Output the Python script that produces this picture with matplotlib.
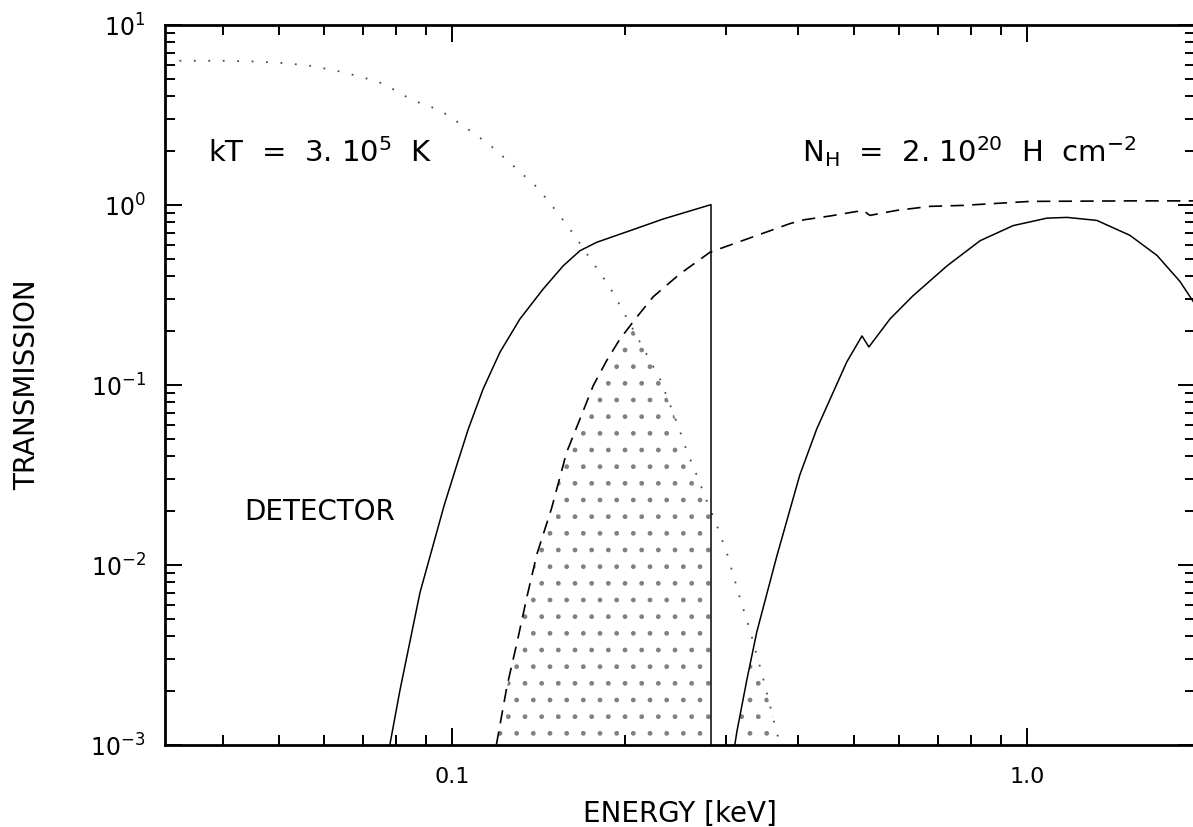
import numpy as np
import matplotlib.pyplot as plt
from matplotlib.ticker import NullFormatter

# energies in keV, transmissions
# dotted curve: blackbody spectrum kT = 3.10^5 K
bb_E = [0.0317, 0.040, 0.045, 0.050, 0.056, 0.063, 0.070, 0.076, 0.0855, 0.0953,
        0.1045, 0.1164, 0.1277, 0.1406, 0.1524, 0.1637, 0.174, 0.188, 0.198, 0.230,
        0.246, 0.256, 0.267, 0.280, 0.289, 0.301, 0.317, 0.330, 0.347, 0.362, 0.372]
bb_T = [6.3, 6.3, 6.25, 6.15, 5.95, 5.55, 5.1, 4.7, 3.8, 3.35,
        2.75, 2.15, 1.65, 1.25, 0.91, 0.67, 0.50, 0.35, 0.26, 0.108,
        0.062, 0.043, 0.031, 0.021, 0.0165, 0.0115, 0.0065, 0.0043, 0.0024, 0.0014, 0.001]

# solid curve, detector below the carbon edge
det1_E = [0.078, 0.0812, 0.088, 0.0970, 0.1019, 0.1068, 0.1133, 0.1212, 0.1313,
          0.1441, 0.1562, 0.167, 0.1785, 0.204, 0.2331, 0.282]
det1_T = [0.001, 0.0020, 0.0070, 0.0215, 0.0355, 0.0568, 0.0946, 0.1514, 0.2317,
          0.34, 0.458, 0.555, 0.618, 0.717, 0.833, 1.0]

# solid curve above the edge
det2_E = [0.3105, 0.313, 0.326, 0.339, 0.3674, 0.4027, 0.431, 0.486, 0.5166,
          0.531, 0.578, 0.633, 0.726, 0.829, 0.946, 1.083, 1.174, 1.323, 1.51,
          1.683, 1.845, 1.96]
det2_T = [0.001, 0.00118, 0.00232, 0.00423, 0.0112, 0.0315, 0.0568, 0.1337, 0.1866,
          0.162, 0.232, 0.311, 0.457, 0.631, 0.765, 0.842, 0.85, 0.818, 0.676,
          0.523, 0.375, 0.28]

# dashed curve: interstellar transmission, N_H = 2.10^20
ism_E = [0.1195, 0.1247, 0.1298, 0.135, 0.1406, 0.149, 0.1583, 0.167, 0.1761, 0.1858,
         0.196, 0.2095, 0.2239, 0.249, 0.281, 0.326, 0.372, 0.387, 0.41, 0.454,
         0.519, 0.533, 0.594, 0.678, 0.774, 1.012, 1.51, 1.96]
ism_T = [0.001, 0.00212, 0.0037, 0.0066, 0.0115, 0.0205, 0.0421, 0.0645, 0.0988, 0.136,
         0.1794, 0.2368, 0.308, 0.412, 0.544, 0.645, 0.75, 0.785, 0.825, 0.865,
         0.93, 0.872, 0.93, 0.979, 0.991, 1.043, 1.05, 1.05]

x_lo, x_hi = 0.0317, 1.96
y_lo, y_hi = 1e-3, 10.0


def logi(e, xs, ys):
    return 10 ** np.interp(np.log10(e), np.log10(xs), np.log10(ys), left=-9, right=-9)


fig = plt.figure(figsize=(11.93, 8.28), dpi=100)
ax = fig.add_axes([165 / 1193, (828 - 745.7) / 828, (1195 - 165) / 1193, 720 / 828])

# hatched area = what passes through all three
grid = np.geomspace(0.118, 0.40, 600)
det = np.where(grid <= det1_E[-1], logi(grid, det1_E, det1_T), logi(grid, det2_E, det2_T))
upper = np.minimum(np.minimum(logi(grid, bb_E, bb_T), logi(grid, ism_E, ism_T)), det)
ax.fill_between(grid, y_lo, upper, where=upper > y_lo, facecolor='none',
                edgecolor='0.5', hatch='.', linewidth=0)

ax.plot(bb_E, bb_T, color='0.3', lw=1.3, linestyle=(0, (1, 7)))
ax.plot(det1_E, det1_T, color='black', lw=1.1)
ax.vlines(det1_E[-1], y_lo, det1_T[-1], color='black', lw=1.1)
ax.plot(det2_E, det2_T, color='black', lw=1.1)
ax.plot(ism_E, ism_T, color='black', lw=1.2, linestyle=(0, (8, 5)))

ax.set_xscale('log')
ax.set_yscale('log')
ax.set_xlim(x_lo, x_hi)
ax.set_ylim(y_lo, y_hi)

ax.set_xticks([0.1, 1.0], ['0.1', '1.0'])
ax.xaxis.set_minor_formatter(NullFormatter())
ax.yaxis.set_minor_formatter(NullFormatter())

for s in ax.spines.values():
    s.set_linewidth(2)
ax.tick_params(which='both', direction='in', top=True, right=True, width=1.4)
ax.tick_params(which='major', length=12)
ax.tick_params(which='minor', length=7)
ax.tick_params(axis='x', which='major', labelsize=16, pad=15)
ax.tick_params(axis='y', which='major', labelsize=17, pad=14)

ax.text(0.0377, 1.75, 'kT  =  3. 10$^5$  K', fontsize=21, va='baseline')
ax.text(0.406, 1.75, r'N$_\mathregular{H}$  =  2. 10$^{20}$  H  cm$^{-2}$',
        fontsize=21, va='baseline')
ax.text(0.0436, 0.0199, 'DETECTOR', fontsize=20, va='center')

fig.text(27 / 1193, 1 - 385 / 828, 'TRANSMISSION', rotation=90, fontsize=20,
         ha='center', va='center')
fig.text(680 / 1193, 1 - 814 / 828, 'ENERGY [keV]', fontsize=20, ha='center', va='center')

fig.savefig('out.png', dpi=100)
